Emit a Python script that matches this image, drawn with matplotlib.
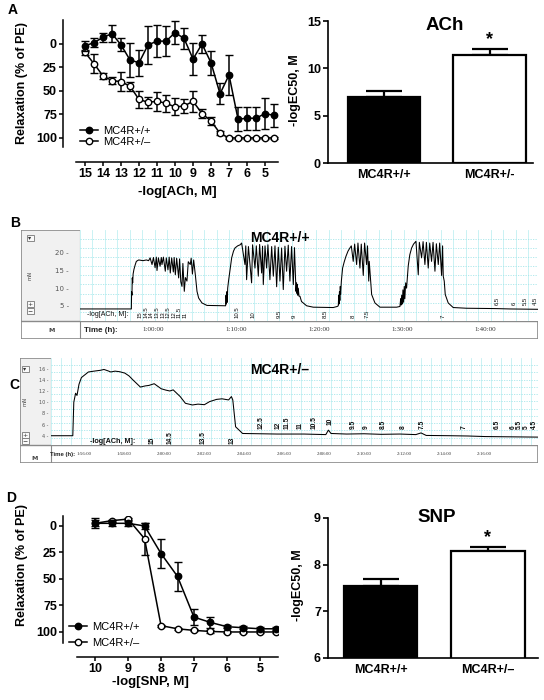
from __future__ import annotations

import matplotlib

matplotlib.use("Agg")

import matplotlib.pyplot as plt
import numpy as np
from matplotlib.lines import Line2D
from matplotlib.patches import Rectangle

plt.rcParams["font.family"] = ["Liberation Sans", "DejaVu Sans"]

W, H = 544, 700

# ---------------- data ----------------
# A: ACh concentration-response (relaxation, % of PE)
ach_logc = [15, 14.5, 14, 13.5, 13, 12.5, 12, 11.5, 11, 10.5, 10,
            9.5, 9, 8.5, 8, 7.5, 7, 6.5, 6, 5.5, 5, 4.5]
ach_wt = [2, -1.5, -7, -11, 1, 17, 20, 1, -3, -3, -12,
          -6, 16, 0, 20, 53, 33, 80, 79, 79, 74, 76]
ach_wt_err = [5, 4.5, 5, 9, 7, 18, 14, 20, 17, 16, 12,
              11, 17, 10, 13, 11, 21, 13, 12, 12, 16, 12]
ach_het = [9, 21, 34, 39, 40, 45, 59, 62, 61, 63, 67,
           66, 61, 74, 82, 95, 100, 100, 100, 100, 100, 100]
ach_het_err = [3, 10, 3, 4, 10, 5, 9, 6, 10, 9, 9,
               7, 11, 5, 4, 2, 1, 1, 1, 1, 1, 1]

# A (right): -logEC50 for ACh
groups_ach = ["MC4R+/+", "MC4R+/-"]
ach_ec50 = [7.0, 11.4]
ach_ec50_err = [0.63, 0.63]

# D: SNP concentration-response
snp_logc = [10, 9.5, 9, 8.5, 8, 7.5, 7, 6.5, 6, 5.5, 5, 4.5]
snp_wt = [-2.5, -2.5, -2.5, 0, 26, 47.6, 86, 91, 95, 96, 97, 97]
snp_wt_err = [4.7, 3, 2.5, 2.4, 14, 14, 7.5, 5, 1.5, 1.5, 1.5, 1.5]
snp_het = [-2.5, -5, -6.5, 12, 94, 97, 98.5, 99.5, 100, 100, 100, 100]
snp_het_err = [3, 1, 1, 15, 1, 1, 1, 1, 1, 1, 1, 1]

# D (right): -logEC50 for SNP
groups_snp = ["MC4R+/+", "MC4R+/–"]
snp_ec50 = [7.54, 8.29]
snp_ec50_err = [0.16, 0.08]

# B: isometric tension recording, MC4R+/+ (time in min, force in mN)
b_time = [
    51.2, 57.39, 57.42, 57.46, 57.5, 57.55, 57.6, 57.7, 57.85, 57.99, 58.27, 58.8, 59.2, 59.47,
    59.65, 59.88, 60.05, 60.25, 60.4, 60.48, 60.65, 60.85, 61.0, 61.08, 61.25, 61.48, 61.6, 61.8,
    61.95, 62.08, 62.25, 62.45, 62.55, 62.69, 62.85, 63.09, 63.2, 63.35, 63.49, 63.6, 63.77, 63.9,
    64.09, 64.25, 64.49, 64.6, 64.75, 64.9, 65.1, 65.3, 65.5, 65.9, 66.5, 68.5,
    68.75, 68.8, 68.85, 68.9, 68.95, 69.0, 69.1, 69.3, 69.48, 69.7, 69.88, 70.2, 70.5, 70.68,
    71.08, 71.18, 71.28, 71.5, 71.88, 72.0, 72.29, 72.45, 72.69, 72.85, 73.09, 73.2, 73.29, 73.5,
    73.69, 73.85, 74.09, 74.3, 74.5, 74.7, 74.9, 75.1, 75.3, 75.5, 75.7, 75.9, 76.1, 76.3, 76.5,
    76.7, 76.91, 77.05, 77.23, 77.3, 77.35, 77.4, 77.45, 77.5, 77.6, 77.71, 77.9, 78.11, 78.51,
    79.31, 81.72, 82.2,
    82.33, 82.38, 82.42, 82.47, 82.52, 82.57, 82.61, 82.7, 82.85, 83.05, 83.25, 83.5, 83.73,
    83.9, 84.13, 84.3, 84.54, 84.7, 84.94, 85.1, 85.34, 85.5, 85.74, 85.85, 86.0, 86.06,
    86.2, 86.35, 86.75, 87.35, 89.36, 89.76,
    89.85, 89.9, 89.97, 90.05, 90.12, 90.2, 90.28, 90.35, 90.45, 90.56, 90.76, 90.95, 91.17,
    91.4, 91.69, 91.97, 92.1, 92.37, 92.55, 92.77, 92.95, 93.17, 93.35, 93.57, 93.75, 93.98,
    94.15, 94.38, 94.55, 94.78, 94.9, 94.98, 95.1, 95.22, 95.58, 96.18, 97.79, 101.4, 103.0, 106.4,
]
b_force = [
    4.1, 4.1, 9.0, 8.0, 12.9, 11.5, 14.0, 15.3, 16.6, 17.6, 18.0, 17.8, 18.0, 17.8,
    18.6, 16.7, 18.7, 15.8, 18.8, 15.0, 18.6, 16.2, 18.7, 16.7, 18.8, 14.8, 18.6, 15.2,
    18.8, 14.3, 18.6, 14.6, 18.7, 13.8, 18.5, 12.9, 18.3, 11.8, 10.5, 17.0, 9.1, 13.0,
    12.0, 17.5, 16.7, 18.5, 14.0, 18.0, 13.8, 9.1, 7.2, 5.8, 5.1, 5.0,
    5.0, 8.0, 5.5, 9.0, 6.0, 10.0, 12.0, 15.5, 18.6, 20.5, 21.4, 22.0, 22.3, 22.8,
    16.7, 22.0, 12.4, 21.8, 11.5, 22.3, 15.7, 22.0, 13.4, 22.4, 14.3, 21.9, 11.0, 22.0,
    15.7, 22.3, 12.4, 21.8, 13.4, 22.0, 10.4, 21.6, 12.0, 21.4, 9.6, 21.9, 14.8, 22.2, 12.0,
    21.8, 11.0, 21.5, 9.1, 11.5, 8.5, 11.0, 8.0, 10.0, 7.7, 7.7, 6.2, 5.8, 5.0,
    4.6, 4.5, 4.8,
    5.0, 8.0, 5.5, 9.0, 6.5, 10.5, 8.2, 12.0, 15.7, 17.5, 19.0, 20.5, 21.4,
    22.0, 17.6, 22.5, 16.7, 22.8, 15.7, 22.5, 13.6, 22.8, 16.7, 22.0, 12.0, 17.6,
    13.0, 8.2, 5.8, 4.6, 4.6, 4.8,
    7.0, 5.2, 8.0, 5.5, 9.5, 6.0, 10.5, 7.0, 11.5, 10.0, 16.3, 19.5, 21.4,
    22.5, 23.3, 13.8, 23.0, 18.6, 23.2, 16.7, 23.0, 15.7, 22.8, 17.6, 23.0, 14.8,
    22.6, 16.7, 22.8, 13.6, 22.0, 13.4, 12.0, 8.2, 5.8, 4.5, 4.3, 4.2, 4.1, 4.0,
]
b_dose_labels = ["15", "14.5", "14", "13.5", "13", "12.5", "12", "11.5", "11", "10.5", "10",
                 "9.5", "9", "8.5", "8", "7.5", "7", "6.5", "6", "5.5", "4.5"]
b_dose_time = [58.47, 59.14, 59.82, 60.49, 61.17, 61.84, 62.52, 63.19, 63.87, 70.08, 72.01,
               75.22, 76.99, 80.76, 84.13, 85.75, 94.98, 101.48, 103.57, 104.82, 106.02]
b_dose_level = [1.5] * 17 + [5.2] * 4
b_clock = ["1:00:00", "1:10:00", "1:20:00", "1:30:00", "1:40:00"]
b_clock_min = [60, 70, 80, 90, 100]

# C: isometric tension recording, MC4R+/- (time in min, force in mN)
c_time = [
    114.35, 115.44, 115.49, 115.58, 115.65, 115.75, 115.87, 116.22, 116.5, 116.82, 117.0,
    117.2, 117.34, 117.55, 117.78, 118.04, 118.25, 118.47, 118.82, 119.05, 119.25, 119.51,
    119.86, 120.1, 120.29, 120.46, 120.81, 121.07, 121.42, 121.7, 122.02, 122.28, 122.63,
    122.9, 123.23, 123.37, 123.44, 123.58, 123.93, 124.8, 125.66, 127.0, 128.09, 128.22,
    128.35, 129.13, 130.0, 130.86, 131.8, 132.59, 132.85, 133.11, 134.32, 135.2, 136.06, 138.7,
]
c_force = [
    4.0, 4.0, 10.0, 11.6, 11.2, 13.2, 14.4, 15.4, 15.55, 15.7, 15.85,
    15.6, 15.4, 15.55, 15.45, 15.2, 14.7, 13.9, 12.7, 12.9, 13.0, 13.3,
    12.4, 12.15, 12.0, 12.2, 11.0, 9.8, 9.5, 9.65, 9.55, 10.1, 10.5,
    10.6, 10.4, 11.0, 10.4, 5.6, 4.4, 4.35, 4.3, 4.3, 4.2, 5.0,
    4.4, 4.3, 4.35, 4.25, 4.3, 4.2, 4.5, 4.05, 4.0, 3.95, 3.85, 3.75,
]
c_dose_labels = ["15", "14.5", "13.5", "13", "12.5", "12", "11.5", "11", "10.5", "10", "9.5",
                 "9", "8.5", "8", "7.5", "7", "6.5", "6", "5.5", "5", "4.5"]
c_dose_time = [119.43, 120.3, 121.98, 123.4, 124.85, 125.7, 126.14, 126.8, 127.52, 128.3, 129.44,
               130.1, 130.95, 131.94, 132.89, 135.0, 136.65, 137.44, 137.79, 138.14, 138.53]
c_dose_level = [2.6] * 4 + [5.2] * 5 + [5.9] + [5.2] * 11
c_clock = ["1:56:00", "1:58:00", "2:00:00", "2:02:00", "2:04:00", "2:06:00",
           "2:08:00", "2:10:00", "2:12:00", "2:14:00", "2:16:00"]
c_clock_min = [116, 118, 120, 122, 124, 126, 128, 130, 132, 134, 136]


# ---------------- helpers ----------------
def px_axes(fig, x0, y0, x1, y1):
    return fig.add_axes([x0 / W, 1 - y1 / H, (x1 - x0) / W, (y1 - y0) / H])


def fig_text(fig, x, y, s, **kw):
    fig.text(x / W, 1 - y / H, s, **kw)


def pt(px):
    return px * 0.72


def bold_ticks(ax):
    for lab in ax.get_xticklabels() + ax.get_yticklabels():
        lab.set_fontweight("bold")


def curve_panel(fig, rect, logc, wt, wt_err, het, het_err, xlim, ylim, xticks,
                offsets, legend_anchor, legend_spacing):
    ax = px_axes(fig, *rect)
    kw = dict(fmt="-o", color="black", ms=4.6, lw=1.1, elinewidth=1.1,
              capsize=2.6, capthick=1.1, mew=1.0)
    ax.errorbar(logc, het, yerr=het_err, mfc="white", zorder=3, **kw)
    ax.errorbar(logc, wt, yerr=wt_err, mfc="black", zorder=4, **kw)
    ax.set_xlim(*xlim)
    ax.set_ylim(*ylim)
    ax.set_xticks(xticks)
    ax.set_yticks([0, 25, 50, 75, 100])
    for s in ("top", "right"):
        ax.spines[s].set_visible(False)
    ax.spines["left"].set_position(("outward", pt(offsets[0])))
    ax.spines["bottom"].set_position(("outward", pt(offsets[1])))
    for s in ("left", "bottom"):
        ax.spines[s].set_linewidth(1.1)
    ax.tick_params(width=1.1, length=pt(4), labelsize=9, pad=1.5)
    bold_ticks(ax)
    handles = [
        Line2D([], [], color="black", marker="o", mfc="black", ms=4.6, lw=1.1),
        Line2D([], [], color="black", marker="o", mfc="white", ms=4.6, lw=1.1),
    ]
    ax.legend(handles, ["MC4R+/+", "MC4R+/–"], loc="lower left", bbox_to_anchor=legend_anchor,
              frameon=False, fontsize=8, handlelength=1.6, handletextpad=0.45,
              labelspacing=legend_spacing, borderpad=0, borderaxespad=0)
    ax.patch.set_alpha(0)
    return ax


def bar_panel(fig, rect, groups, vals, errs, ylim, yticks, xlim, star_gap):
    ax = px_axes(fig, *rect)
    x = np.arange(len(groups))
    ax.bar(x, vals, width=0.69, color=["black", "white"], edgecolor="black", linewidth=1.6, zorder=2)
    ax.errorbar(x, vals, yerr=[[0] * len(errs), errs], fmt="none", ecolor="black",
                elinewidth=1.6, capsize=13, capthick=1.6, zorder=1)
    ax.text(x[1], vals[1] + errs[1] + star_gap, "*", ha="center", va="bottom",
            fontsize=13, fontweight="bold")
    ax.set_ylim(*ylim)
    ax.set_xlim(*xlim)
    ax.set_yticks(yticks)
    ax.set_xticks(x)
    ax.set_xticklabels(groups)
    for s in ("top", "right"):
        ax.spines[s].set_visible(False)
    for s in ("left", "bottom"):
        ax.spines[s].set_linewidth(1.2)
    ax.tick_params(axis="y", width=1.2, length=pt(5), labelsize=9, pad=1.5)
    ax.tick_params(axis="x", length=0, labelsize=9, pad=4)
    bold_ticks(ax)
    return ax


def button(ax, x, y, s, w=7, h=6):
    ax.add_patch(Rectangle((x - w / 2, y - h / 2), w, h, facecolor="#fafafa",
                           edgecolor="#777777", lw=0.6))
    ax.text(x, y, s, ha="center", va="center", fontsize=4.5, family="DejaVu Sans", color="#333333")


def recorder_panel(fig, box, plot_left, plot_bottom, tlim, ylim, yticks, tick_fs, tick_pad,
                   t, f, dose_lab, dose_t, dose_lvl, dose_fs, dose_weight,
                   clock, clock_t, clock_fs, grid_dt, grid_df, title, title_xy,
                   knobs, log_label_pos, log_fs, time_label_x, icon_pos):
    x0, y0, x1, y1 = box
    frame = px_axes(fig, x0, y0, x1, y1)
    frame.set_xlim(x0, x1)
    frame.set_ylim(y1, y0)
    frame.axis("off")
    frame.add_patch(Rectangle((x0, y0), plot_left - x0, plot_bottom - y0,
                              facecolor="#f1f1f1", edgecolor="none"))
    frame.add_patch(Rectangle((x0, plot_bottom), x1 - x0, y1 - plot_bottom,
                              facecolor="white", edgecolor="none"))
    frame.plot([x0, x1], [plot_bottom, plot_bottom], color="#8a8a8a", lw=1.0)
    frame.plot([plot_left, plot_left], [y0, y1], color="#8a8a8a", lw=0.8)
    frame.add_patch(Rectangle((x0, y0), x1 - x0, y1 - y0, facecolor="none",
                              edgecolor="#8a8a8a", lw=1.2))
    for (kx, ky, ks) in knobs:
        button(frame, kx, ky, ks)
    frame.text(knobs[0][0], (y0 + plot_bottom) / 2, "mN", rotation=90, ha="center",
               va="center", fontsize=3.8, color="#444444", family="DejaVu Sans")
    frame.text(icon_pos[0], icon_pos[1], "M", ha="center", va="center", fontsize=4.5,
               color="#444444", family="DejaVu Sans", fontweight="bold")
    frame.text(time_label_x, (plot_bottom + y1) / 2, "Time (h):", ha="left", va="center",
               fontsize=clock_fs + 0.8, fontweight="bold", color="#222222")

    ax = px_axes(fig, plot_left, y0, x1, plot_bottom)
    ax.set_facecolor("white")
    ax.set_xlim(*tlim)
    ax.set_ylim(*ylim)
    for gx in np.arange(tlim[0], tlim[1], grid_dt):
        ax.axvline(gx, color="#c2f0f2", lw=0.6, zorder=0)
    for gy in np.arange(ylim[0], ylim[1], grid_df):
        ax.axhline(gy, color="#a6e6ea", lw=0.6, ls=(0, (1.5, 1.5)), zorder=0)
    ax.plot(t, f, color="black", lw=0.75, zorder=2)
    for lab, tt, lv in zip(dose_lab, dose_t, dose_lvl):
        ax.text(tt, lv, lab, rotation=90, ha="center", va="bottom", fontsize=dose_fs,
                fontweight=dose_weight, color="#111111", zorder=3, clip_on=False)
    ax.text(log_label_pos[0], log_label_pos[1], "-log[ACh, M]:", ha="left", va="center",
            fontsize=log_fs, fontweight=dose_weight, color="#111111", zorder=3)
    ax.set_xticks([])
    ax.set_yticks(yticks)
    ax.set_yticklabels([f"{v} -" for v in yticks], fontsize=tick_fs, color="#555555",
                       family="DejaVu Sans")
    ax.tick_params(axis="y", length=0, pad=tick_pad)
    for s in ax.spines.values():
        s.set_visible(False)
    fig_text(fig, title_xy[0], title_xy[1], title, ha="center", va="center",
             fontsize=10, fontweight="bold", zorder=5)

    strip = px_axes(fig, plot_left, plot_bottom, x1, y1)
    strip.set_xlim(*tlim)
    strip.set_ylim(0, 1)
    strip.axis("off")
    for lab, tt in zip(clock, clock_t):
        strip.text(tt, 0.5, lab, ha="center", va="center", fontsize=clock_fs,
                   family="Liberation Serif", color="#333333")
    return ax


def main() -> None:
    fig = plt.figure(figsize=(W / 100, H / 100), dpi=100)
    fig.patch.set_facecolor("white")

    # ---- A ----
    curve_panel(fig, (76, 20, 278, 147), ach_logc, ach_wt, ach_wt_err, ach_het, ach_het_err,
                (15.5, 4.28), (109.6, -25.5), list(range(15, 4, -1)), (13, 15),
                (0.02, 0.0), 0.1)
    fig_text(fig, 22, 83, "Relaxation (% of PE)", rotation=90, ha="center", va="center",
             fontsize=9, fontweight="bold")
    fig_text(fig, 177, 192, "-log[ACh, M]", ha="center", va="center", fontsize=9.5,
             fontweight="bold")
    fig_text(fig, 8, 10, "A", ha="left", va="center", fontsize=10, fontweight="bold")

    bar_panel(fig, (328, 21, 533, 163), groups_ach, ach_ec50, ach_ec50_err, (0, 15),
              [0, 5, 10, 15], (-0.53, 1.41), 0.1)
    fig_text(fig, 445, 25, "ACh", ha="center", va="center", fontsize=13.5, fontweight="bold")
    fig_text(fig, 295, 90, "-logEC50, M", rotation=90, ha="center", va="center",
             fontsize=9, fontweight="bold")

    # ---- B ----
    recorder_panel(fig, (21, 230, 538, 339), 80, 321, (51.2, 106.4), (0.68, 26.5),
                   [5, 10, 15, 20], 5, 8, b_time, b_force, b_dose_labels, b_dose_time,
                   b_dose_level, 4.3, "normal", b_clock, b_clock_min, 5, 1.5, 2.6,
                   "MC4R+/+", (280, 238), [(30, 238, "▾"), (30, 304, "+"), (30, 311, "−")],
                   (52.0, 2.4), 5, 84, (52, 331))
    fig_text(fig, 10, 223, "B", ha="left", va="center", fontsize=10, fontweight="bold")

    # ---- C ----
    recorder_panel(fig, (20, 358, 538, 463), 51, 445, (114.35, 138.7), (2.34, 17.9),
                   [4, 6, 8, 10, 12, 14, 16], 3.5, 2, c_time, c_force, c_dose_labels,
                   c_dose_time, c_dose_level, 4.8, "bold", c_clock, c_clock_min, 3.5, 0.5,
                   1.3, "MC4R+/–", (280, 370), [(25, 369, "▾"), (25, 435, "+"), (25, 441, "−")],
                   (116.3, 3.05), 5.2, 50, (35, 458))
    fig_text(fig, 9, 385, "C", ha="left", va="center", fontsize=10, fontweight="bold")

    # ---- D ----
    curve_panel(fig, (77, 516, 278, 643), snp_logc, snp_wt, snp_wt_err, snp_het, snp_het_err,
                (10.55, 4.45), (110.4, -9.4), [10, 9, 8, 7, 6, 5], (14, 14),
                (-0.04, -0.04), 0.55)
    fig_text(fig, 22, 565, "Relaxation (% of PE)", rotation=90, ha="center", va="center",
             fontsize=9, fontweight="bold")
    fig_text(fig, 150, 682, "-log[SNP, M]", ha="center", va="center", fontsize=9.5,
             fontweight="bold")
    fig_text(fig, 6, 498, "D", ha="left", va="center", fontsize=10, fontweight="bold")

    bar_panel(fig, (328, 518, 538, 658), groups_snp, snp_ec50, snp_ec50_err, (6, 9),
              [6, 7, 8, 9], (-0.49, 1.47), 0.03)
    fig_text(fig, 437, 517, "SNP", ha="center", va="center", fontsize=13.5, fontweight="bold")
    fig_text(fig, 298, 585, "-logEC50, M", rotation=90, ha="center", va="center",
             fontsize=9, fontweight="bold")

    fig.savefig("out.png", dpi=100, facecolor="white")
    plt.close(fig)


if __name__ == "__main__":
    main()
